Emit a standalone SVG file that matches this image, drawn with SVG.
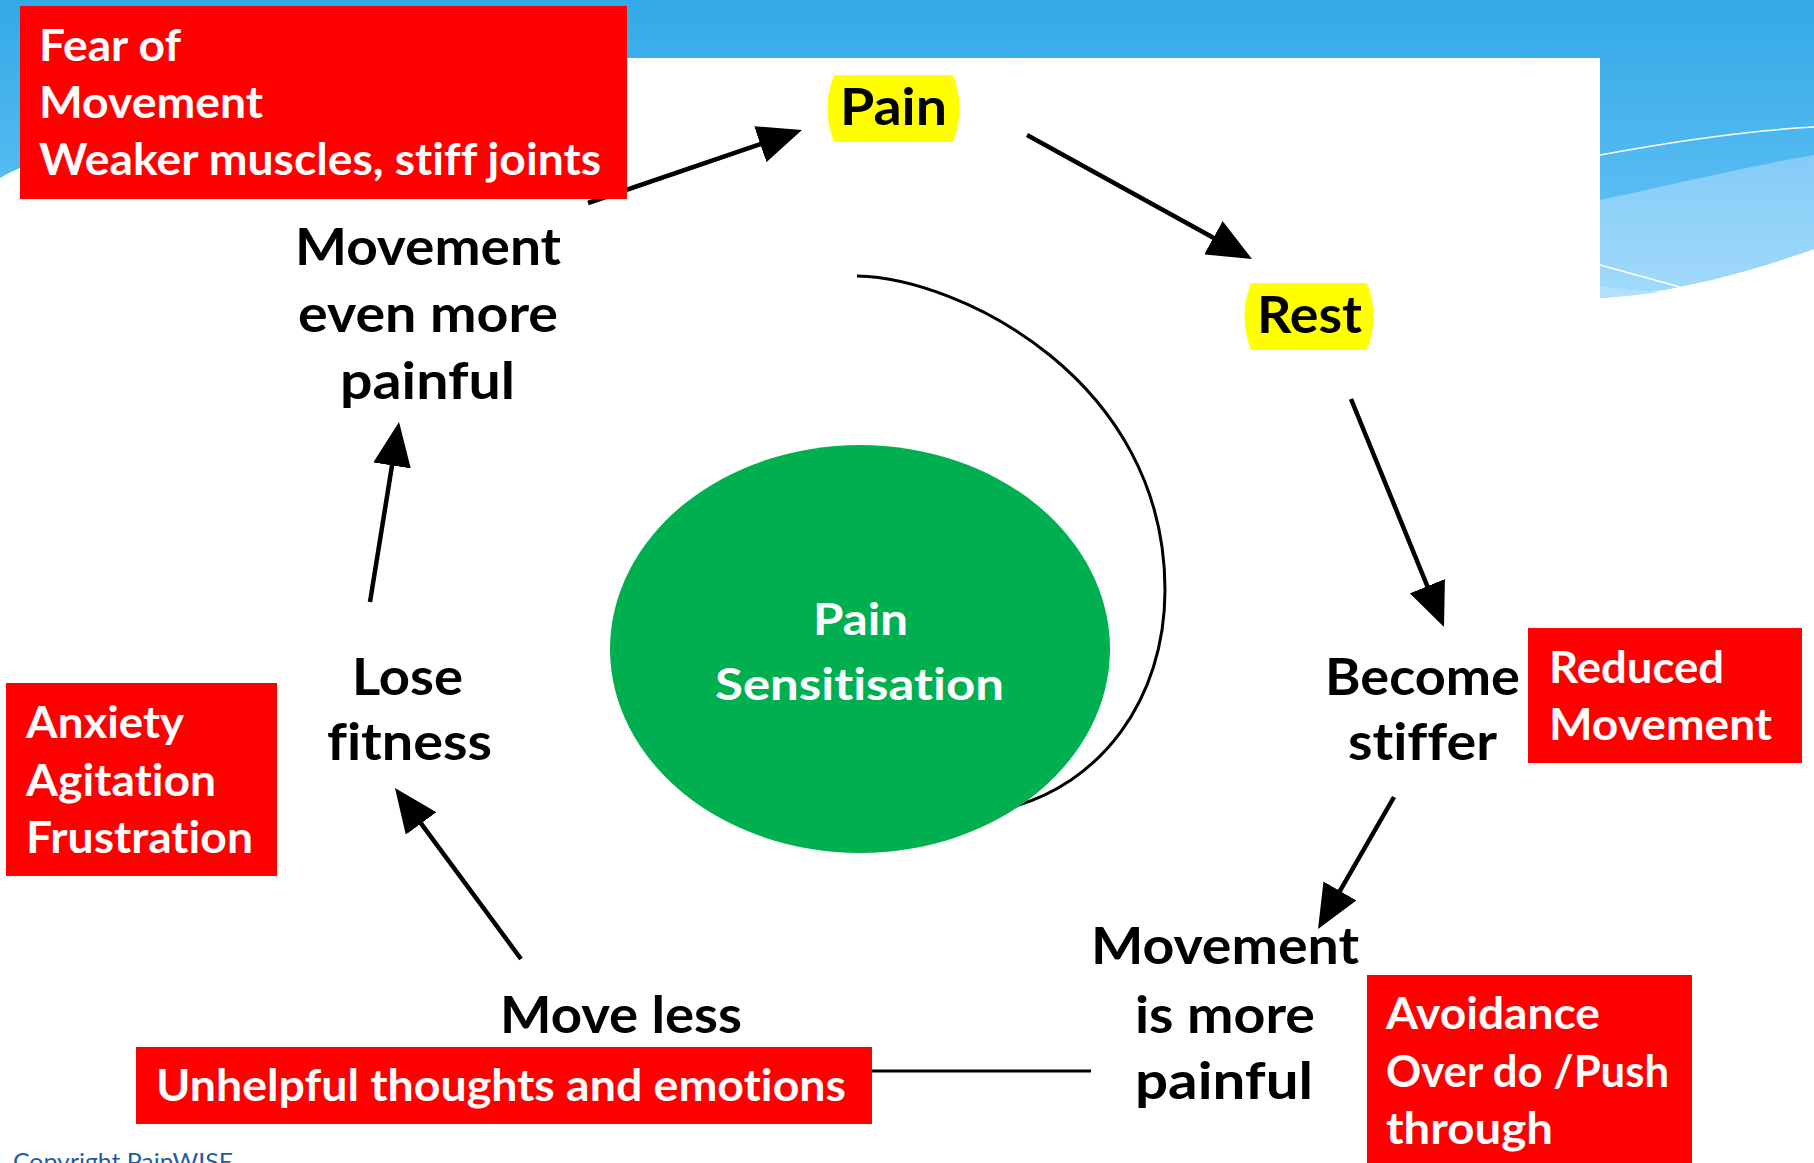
<svg xmlns="http://www.w3.org/2000/svg" width="1814" height="1163" viewBox="0 0 1814 1163">
  <defs>
    <linearGradient id="sky" gradientUnits="userSpaceOnUse" x1="0" y1="0" x2="0" y2="300">
      <stop offset="0" stop-color="#33A9E8"/>
      <stop offset="1" stop-color="#6CC6F6"/>
    </linearGradient>
    <linearGradient id="skyLight" gradientUnits="userSpaceOnUse" x1="0" y1="150" x2="0" y2="300">
      <stop offset="0" stop-color="#84CBF7"/>
      <stop offset="1" stop-color="#A2DAFB"/>
    </linearGradient>
    <marker id="head" markerUnits="userSpaceOnUse" markerWidth="44" markerHeight="38" refX="30" refY="19" orient="auto">
      <path d="M0,0 L44,19 L0,38 Z" fill="#000"/>
    </marker>
    <style>
      text { font-variant-ligatures: none; font-feature-settings: "liga" 0, "clig" 0; }
      .lbl { font-family: Lato, "Open Sans", "Liberation Sans", sans-serif; font-weight: 700; fill: #000; font-size: 51px; }
      .wt { font-family: Lato, "Open Sans", "Liberation Sans", sans-serif; font-weight: 700; fill: #fff; font-size: 43px; }
      .red { fill: #FF0000; }
      .yel { fill: #FFFF00; }
      .arrow { stroke: #000; stroke-width: 4.5; fill: none; marker-end: url(#head); }
      .plain { stroke: #000; stroke-width: 3; fill: none; }
    </style>
  </defs>

  <!-- background -->
  <g id="background">
    <rect x="0" y="0" width="1814" height="1163" fill="#fff"/>
    <path d="M0,0 H1814 V249 C1740,275 1670,292 1600,298 L20,298 L20,168 Q10,172 0,178 Z" fill="url(#sky)"/>
    <path d="M1600,200 C1680,183 1750,166 1814,155 V249 C1740,275 1670,292 1600,298 Z" fill="url(#skyLight)"/>
    <path d="M1600,286 C1620,289 1640,291 1660,292 C1640,295 1620,297 1600,298 Z" fill="#B0E0FC"/>
    <path d="M1600,155 C1670,142 1740,131 1814,127" stroke="#fff" stroke-width="1.5" fill="none"/>
    <path d="M1600,265 L1680,287" stroke="#fff" stroke-width="1.5" fill="none"/>
    <rect x="20" y="58" width="1580" height="1105" fill="#fff"/>
  </g>

  <!-- connectors -->
  <g id="connectors">
    <line class="arrow" x1="588" y1="203" x2="788.7" y2="134.5"/>
    <line class="arrow" x1="1027" y1="135" x2="1239.7" y2="252.2"/>
    <line class="arrow" x1="1351" y1="399" x2="1438.7" y2="614.0"/>
    <line class="arrow" x1="1394" y1="797" x2="1325.0" y2="916.9"/>
    <line class="arrow" x1="521" y1="959" x2="403.3" y2="799.3"/>
    <line class="arrow" x1="370" y1="602" x2="396.8" y2="435.8"/>
    <path class="plain" d="M857,276 C960,278 1165,380 1165,590 C1165,700 1100,785 1008,808"/>
    <line class="plain" x1="872" y1="1071" x2="1091" y2="1071"/>
  </g>

  <!-- nodes -->
  <g id="fear-box">
    <rect class="red" x="20" y="6" width="607" height="193"/>
    <text class="wt" x="39" y="61" textLength="142" lengthAdjust="spacingAndGlyphs">Fear of</text>
    <text class="wt" x="39" y="118" textLength="224" lengthAdjust="spacingAndGlyphs">Movement</text>
    <text class="wt" x="39" y="175" textLength="562" lengthAdjust="spacingAndGlyphs">Weaker muscles, stiff joints</text>
  </g>

  <g id="pain">
    <path class="yel" d="M834,75 H953 Q966,108 953,142 H834 Q821,108 834,75 Z"/>
    <text class="lbl" x="840" y="125" font-size="58" textLength="107" lengthAdjust="spacingAndGlyphs">Pain</text>
  </g>

  <g id="rest">
    <path class="yel" d="M1251,283 H1367 Q1380,316 1367,350 H1251 Q1238,316 1251,283 Z"/>
    <text class="lbl" x="1257" y="333" font-size="53" textLength="105" lengthAdjust="spacingAndGlyphs">Rest</text>
  </g>

  <g id="become-stiffer">
    <text class="lbl" x="1325" y="695" textLength="195" lengthAdjust="spacingAndGlyphs">Become</text>
    <text class="lbl" x="1348" y="760" textLength="149" lengthAdjust="spacingAndGlyphs">stiffer</text>
  </g>

  <g id="reduced-movement">
    <rect class="red" x="1528" y="628" width="274" height="135"/>
    <text class="wt" x="1549" y="683" textLength="175" lengthAdjust="spacingAndGlyphs">Reduced</text>
    <text class="wt" x="1549" y="740" textLength="223" lengthAdjust="spacingAndGlyphs">Movement</text>
  </g>

  <g id="movement-is-more-painful">
    <text class="lbl" x="1091" y="964" textLength="268" lengthAdjust="spacingAndGlyphs">Movement</text>
    <text class="lbl" x="1135" y="1033" textLength="180" lengthAdjust="spacingAndGlyphs">is more</text>
    <text class="lbl" x="1135" y="1099" textLength="178" lengthAdjust="spacingAndGlyphs">painful</text>
  </g>

  <g id="avoidance">
    <rect class="red" x="1367" y="975" width="325" height="188"/>
    <text class="wt" x="1386" y="1029" textLength="214" lengthAdjust="spacingAndGlyphs">Avoidance</text>
    <text class="wt" x="1386" y="1087" textLength="283" lengthAdjust="spacingAndGlyphs">Over do /Push</text>
    <text class="wt" x="1386" y="1144" textLength="167" lengthAdjust="spacingAndGlyphs">through</text>
  </g>

  <g id="move-less">
    <text class="lbl" x="500" y="1033" textLength="242" lengthAdjust="spacingAndGlyphs">Move less</text>
  </g>

  <g id="unhelpful">
    <rect class="red" x="136" y="1047" width="736" height="77"/>
    <text class="wt" x="156" y="1101" textLength="690" lengthAdjust="spacingAndGlyphs">Unhelpful thoughts and emotions</text>
  </g>

  <g id="lose-fitness">
    <text class="lbl" x="352" y="695" textLength="111" lengthAdjust="spacingAndGlyphs">Lose</text>
    <text class="lbl" x="327" y="760" textLength="165" lengthAdjust="spacingAndGlyphs">fitness</text>
  </g>

  <g id="anxiety-box">
    <rect class="red" x="6" y="683" width="271" height="193"/>
    <text class="wt" x="26" y="738" textLength="158" lengthAdjust="spacingAndGlyphs">Anxiety</text>
    <text class="wt" x="26" y="796" textLength="190" lengthAdjust="spacingAndGlyphs">Agitation</text>
    <text class="wt" x="26" y="853" textLength="227" lengthAdjust="spacingAndGlyphs">Frustration</text>
  </g>

  <g id="movement-even-more-painful">
    <text class="lbl" x="295" y="265" textLength="266" lengthAdjust="spacingAndGlyphs">Movement</text>
    <text class="lbl" x="298" y="332" textLength="260" lengthAdjust="spacingAndGlyphs">even more</text>
    <text class="lbl" x="340" y="399" textLength="175" lengthAdjust="spacingAndGlyphs">painful</text>
  </g>

  <g id="pain-sensitisation">
    <ellipse cx="860" cy="649" rx="250" ry="204" fill="#00B050"/>
    <text class="wt" x="813" y="635" font-size="47" textLength="95" lengthAdjust="spacingAndGlyphs">Pain</text>
    <text class="wt" x="715" y="700" font-size="47" textLength="289" lengthAdjust="spacingAndGlyphs">Sensitisation</text>
  </g>

  <g id="copyright">
    <text x="13" y="1170" font-family="Lato, 'Open Sans', 'Liberation Sans', sans-serif" font-size="24" fill="#1F5AA6" textLength="220" lengthAdjust="spacingAndGlyphs">Copyright PainWISE</text>
  </g>
</svg>
